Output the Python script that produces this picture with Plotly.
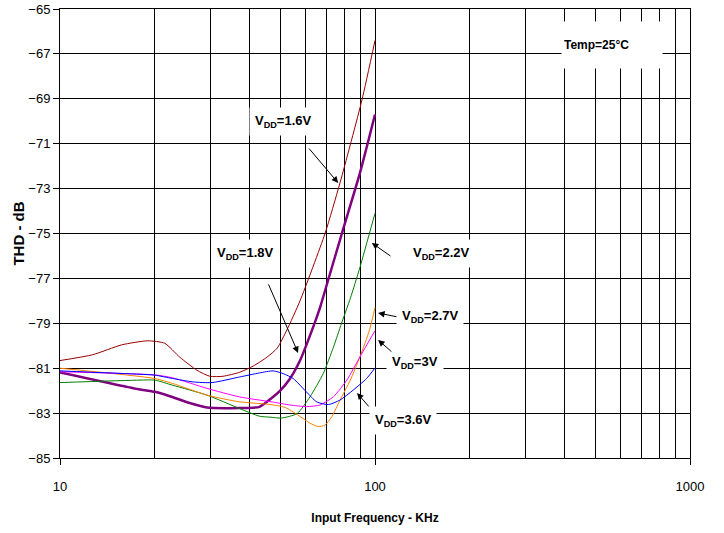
import math
import plotly.graph_objects as go

# ---- data (Input frequency in kHz, THD in dB) ----
freq_16 = [10, 12.7, 15.7, 19.0, 21.5, 24.0, 27.2, 29.9, 32.9, 37.2, 41.0, 45.4, 48.9, 52.5, 57.8, 69.4, 77.4, 90.9, 100]
thd_16 = [-80.66, -80.4, -79.96, -79.78, -79.89, -80.51, -81.09, -81.36, -81.36, -81.18, -80.91, -80.51, -80.11, -79.3, -78.0, -75.0, -72.75, -69.05, -66.4]

freq_18 = [10, 17.95, 20, 21.5, 25.8, 29.3, 37.2, 43, 47, 50, 53.7, 57.8, 62.2, 66.9, 70.4, 79.1, 89.6, 100]
thd_18 = [-81.19, -81.95, -82.05, -82.17, -82.55, -82.75, -82.77, -82.72, -82.33, -82.0, -81.47, -80.66, -79.54, -78.3, -77.25, -74.84, -72.3, -69.7]

freq_22 = [10, 17.95, 20, 22.8, 29.3, 37.2, 43, 46.4, 50.5, 56.6, 62.2, 68.5, 73.8, 78.3, 83.5, 89.6, 100]
thd_22 = [-81.64, -81.53, -81.53, -81.76, -82.2, -82.8, -83.14, -83.18, -83.22, -83.02, -82.27, -81.24, -80.06, -79.0, -77.89, -76.5, -74.1]

freq_27 = [10, 20, 22.8, 29.3, 37.2, 45.4, 50, 52.5, 57.8, 62.2, 66.1, 69.4, 73.0, 77.4, 83.5, 89.6, 96, 100]
thd_27 = [-81.0, -81.46, -81.68, -82.2, -82.5, -82.6, -82.69, -82.78, -83.15, -83.45, -83.6, -83.53, -83.15, -82.43, -81.53, -80.49, -79.31, -78.3]

freq_30 = [10, 20, 22.8, 29.3, 37.2, 47, 53.7, 60.6, 66.9, 73.8, 81.4, 89.6, 100]
thd_30 = [-81.16, -81.3, -81.43, -81.9, -82.28, -82.5, -82.64, -82.71, -82.64, -82.27, -81.53, -80.49, -79.33]

freq_36 = [10, 17.95, 20, 22.8, 26.4, 30.4, 37.2, 43, 47.5, 51.1, 55, 60.6, 65.3, 71.1, 77.4, 85.2, 94, 100]
thd_36 = [-81.12, -81.27, -81.31, -81.46, -81.61, -81.64, -81.39, -81.21, -81.12, -81.24, -81.46, -82.06, -82.5, -82.62, -82.42, -81.98, -81.46, -80.99]

x_major = [10, 100, 1000]
x_major_text = ["10", "100", "1000"]
x_minor = [20, 30, 40, 50, 60, 70, 80, 90, 200, 300, 400, 500, 600, 700, 800, 900]
y_ticks = list(range(-85, -64, 2))

series = [
    (freq_16, thd_16, "#990000", 1),
    (freq_18, thd_18, "#800080", 2.5),
    (freq_22, thd_22, "#008000", 1),
    (freq_27, thd_27, "#FF7F00", 1),
    (freq_30, thd_30, "#FF00FF", 1),
    (freq_36, thd_36, "#0000FF", 1),
]

FONT = "Liberation Sans"

fig = go.Figure()
for fx, fy, col, w in series:
    fig.add_trace(go.Scatter(x=fx, y=fy, mode="lines",
                             line=dict(color=col, width=w, shape="spline", smoothing=0.6),
                             hoverinfo="skip"))

# labels: (text, freq, thd)
labels = [
    ("V<sub>DD</sub>=1.6V", 51.0, -70.0),
    ("V<sub>DD</sub>=1.8V", 38.6, -75.9),
    ("V<sub>DD</sub>=2.2V", 162.0, -75.9),
    ("V<sub>DD</sub>=2.7V", 150.0, -78.7),
    ("V<sub>DD</sub>=3V", 134.0, -80.75),
    ("V<sub>DD</sub>=3.6V", 123.0, -83.35),
]
# arrows: (tail freq, tail thd, head freq, head thd)
arrows = [
    (61.2, -71.15, 76.4, -72.75),
    (45.7, -77.2, 57.0, -80.32),
    (113.2, -76.05, 97.7, -75.42),
    (118.3, -78.72, 102.3, -78.54),
    (114.0, -80.32, 102.3, -79.74),
    (96.4, -82.77, 87.7, -82.1),
]

for txt, fx, fy in labels:
    fig.add_annotation(x=math.log10(fx), y=fy, xref="x", yref="y", text="<b>" + txt + "</b>",
                       showarrow=False, bgcolor="white", borderpad=5,
                       font=dict(family=FONT, size=13, color="black"))

for tx, ty, hx, hy in arrows:
    fig.add_annotation(x=math.log10(hx), y=hy, ax=math.log10(tx), ay=ty,
                       xref="x", yref="y", axref="x", ayref="y", text="",
                       showarrow=True, arrowhead=2, arrowsize=1.3, arrowwidth=1,
                       arrowcolor="black")

fig.add_annotation(x=2.752, y=-66.6, xref="x", yref="y",
                   text="<b>Temp=25°C</b>", showarrow=False, bgcolor="white",
                   width=96, height=42, align="left", borderpad=2,
                   font=dict(family=FONT, size=12, color="black"))

fig.update_layout(
    width=724, height=533,
    margin=dict(l=60, r=34, t=9, b=75),
    paper_bgcolor="white", plot_bgcolor="white",
    showlegend=False,
    font=dict(family=FONT, size=13, color="black"),
)

fig.update_xaxes(
    type="log", range=[1, 3], automargin=False,
    tickvals=x_major, ticktext=x_major_text,
    ticks="outside", ticklen=6, tickcolor="black", tickwidth=1,
    ticklabelstandoff=10,
    showgrid=True, gridcolor="black", gridwidth=1,
    minor=dict(tickvals=x_minor, showgrid=True, gridcolor="black", gridwidth=1, ticks=""),
    showline=True, linecolor="black", linewidth=1, mirror=True,
    tickfont=dict(family=FONT, size=13),
    title=dict(text="<b>Input Frequency - KHz</b>", font=dict(family=FONT, size=12), standoff=21),
    zeroline=False,
)
fig.update_yaxes(
    range=[-85, -65], tickvals=y_ticks, automargin=False,
    ticks="outside", ticklen=6, tickcolor="black", tickwidth=1,
    showgrid=True, gridcolor="black", gridwidth=1,
    showline=True, linecolor="black", linewidth=1, mirror=True,
    tickfont=dict(family=FONT, size=13),
    title=dict(text="<b>THD - dB</b>", font=dict(family=FONT, size=15), standoff=0),
    zeroline=False,
)

fig.write_html("out.html", config={"displayModeBar": False},
               post_script="document.body.style.margin='0';")
